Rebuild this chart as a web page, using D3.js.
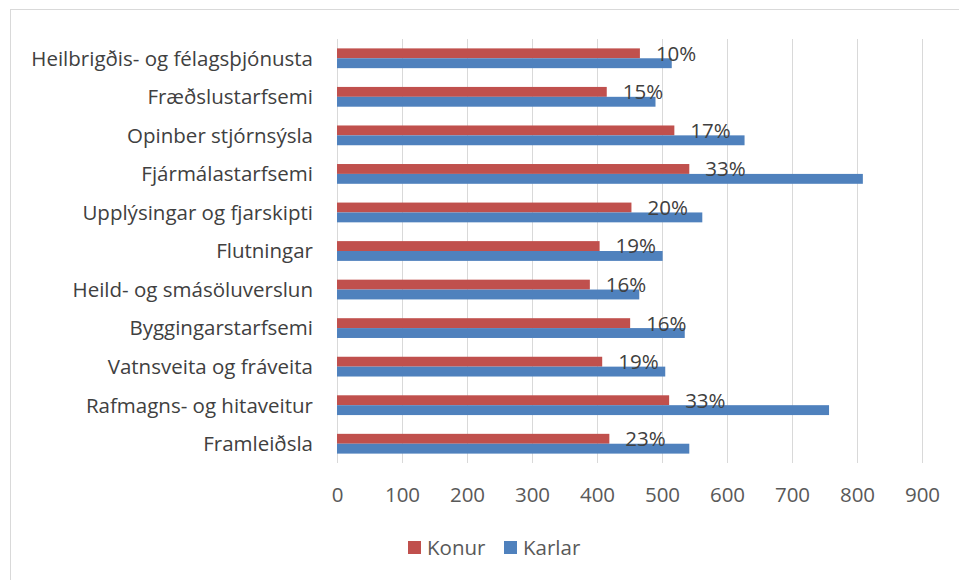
<!DOCTYPE html>
<html>
<head>
<meta charset="utf-8">
<script src="https://cdn.jsdelivr.net/npm/d3@7"></script>
<style>
  body { margin: 0; background: #fff; }
  text { font-family: "Open Sans", sans-serif; }
</style>
</head>
<body>
<div id="chart"></div>
<script>
// categories, top to bottom
const categories = [
  "Heilbrigðis- og félagsþjónusta",
  "Fræðslustarfsemi",
  "Opinber stjórnsýsla",
  "Fjármálastarfsemi",
  "Upplýsingar og fjarskipti",
  "Flutningar ",
  "Heild- og smásöluverslun",
  "Byggingarstarfsemi",
  "Vatnsveita og fráveita",
  "Rafmagns- og hitaveitur",
  "Framleiðsla"
];
const konur = [466, 415, 519, 542, 453, 404, 389, 451, 408, 511, 419];
const karlar = [515, 490, 627, 809, 562, 501, 465, 535, 505, 757, 542];
const pctLabels = ["10%", "15%", "17%", "33%", "20%", "19%", "16%", "16%", "19%", "33%", "23%"];
const ticks = [0, 100, 200, 300, 400, 500, 600, 700, 800, 900];

const W = 959, H = 580;
const plotLeft = 337, plotRight = 922, plotTop = 39, plotBottom = 463;

const svg = d3.select('#chart').append('svg').attr('width', W).attr('height', H);

// chart frame
svg.append('rect')
  .attr('x', 10.5).attr('y', 9.5)
  .attr('width', W + 10).attr('height', H + 10)
  .attr('fill', 'none').attr('stroke', '#d9d9d9');

const x = d3.scaleLinear().domain([0, 900]).range([plotLeft, plotRight]);
const y = d3.scaleBand().domain(categories).range([plotTop, plotBottom]).paddingInner(0.487).paddingOuter(0.2435);
const sub = d3.scaleBand().domain(['konur', 'karlar']).range([0, y.bandwidth()]);

// gridlines
svg.append('g').selectAll('line').data(ticks).join('line')
  .attr('x1', d => Math.round(x(d)) + 0.5).attr('x2', d => Math.round(x(d)) + 0.5)
  .attr('y1', plotTop).attr('y2', plotBottom)
  .attr('stroke', '#d9d9d9').attr('stroke-width', 1);

// x tick labels
const xAxis = d3.axisBottom(x).tickValues(ticks).tickSize(0).tickPadding(0);
const gx = svg.append('g').attr('transform', `translate(0,${plotBottom})`).call(xAxis);
gx.select('.domain').remove();
gx.selectAll('text')
  .attr('y', 39).attr('dy', 0)
  .attr('fill', '#595959')
  .style('font-size', '20.5px')
  .style('font-family', '"Open Sans", sans-serif');

// category labels
const yAxis = d3.axisLeft(y).tickSize(0).tickPadding(24);
const gy = svg.append('g').attr('transform', `translate(${plotLeft},0)`).call(yAxis);
gy.select('.domain').remove();
gy.selectAll('text')
  .attr('fill', '#404040')
  .attr('dy', '0.36em')
  .style('font-size', '20.5px')
  .style('font-family', '"Open Sans", sans-serif');

// bars
const rows = categories.map((c, i) => ({ c, konur: konur[i], karlar: karlar[i], pct: pctLabels[i] }));

svg.append('g').selectAll('rect').data(rows).join('rect')
  .attr('x', x(0)).attr('y', d => y(d.c) + sub('konur'))
  .attr('width', d => x(d.konur) - x(0)).attr('height', sub.bandwidth())
  .attr('fill', '#c0504d');

svg.append('g').selectAll('rect').data(rows).join('rect')
  .attr('x', x(0)).attr('y', d => y(d.c) + sub('karlar'))
  .attr('width', d => x(d.karlar) - x(0)).attr('height', sub.bandwidth())
  .attr('fill', '#4f81bd');

// percentage labels on the Konur series
svg.append('g').selectAll('text').data(rows).join('text')
  .attr('x', d => x(d.konur) + 16)
  .attr('y', d => y(d.c) + sub('konur') + sub.bandwidth() / 2)
  .attr('dy', '0.36em')
  .attr('fill', '#404040')
  .style('font-size', '20.5px')
  .text(d => d.pct);

// legend
const legend = [
  { name: 'Konur', color: '#c0504d', x: 408 },
  { name: 'Karlar', color: '#4f81bd', x: 504 }
];
const lg = svg.append('g').selectAll('g').data(legend).join('g')
  .attr('transform', d => `translate(${d.x},541)`);
lg.append('rect').attr('width', 13).attr('height', 13).attr('fill', d => d.color);
lg.append('text')
  .attr('x', 19).attr('y', 6.5).attr('dy', '0.36em')
  .attr('fill', '#595959')
  .style('font-size', '20.5px')
  .text(d => d.name);
</script>
</body>
</html>
